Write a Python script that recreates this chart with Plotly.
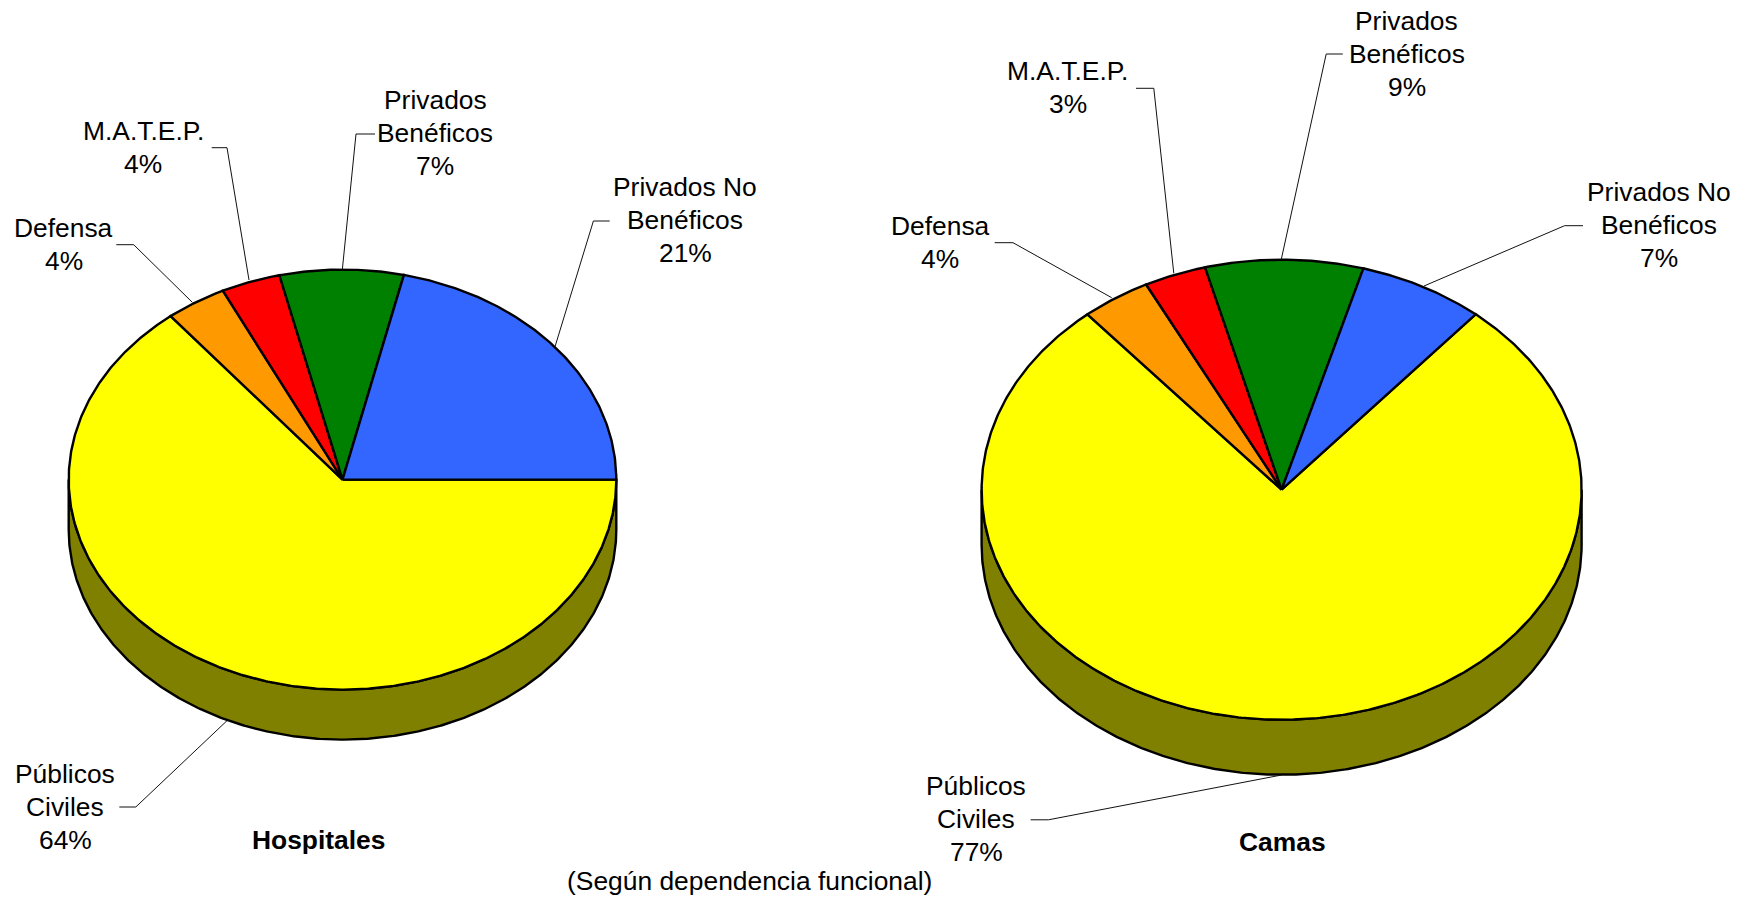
import numpy as np
import plotly.graph_objects as go

# ---- data (clockwise from the first slice) ----
categories = ["Públicos Civiles", "Defensa", "M.A.T.E.P.", "Privados Benéficos", "Privados No Benéficos"]
hospitales_share = [64.2, 3.6, 3.5, 7.3, 21.4]
camas_share = [77.6, 3.75, 3.35, 8.5, 6.8]
hospitales_pct = ["64%", "4%", "4%", "7%", "21%"]
camas_pct = ["77%", "4%", "3%", "9%", "7%"]
label_lines = [["Públicos", "Civiles"], ["Defensa"], ["M.A.T.E.P."], ["Privados", "Benéficos"], ["Privados No", "Benéficos"]]
chart_titles = ["Hospitales", "Camas"]
footer = "(Según dependencia funcional)"

# ---- styles and layout ----
COLORS = ["#FFFF00", "#FF9900", "#FF0000", "#008000", "#3366FF"]
WALLS = ["#808000", "#804C00", "#800000", "#004000", "#193380"]
FONT = "Liberation Sans, Arial, sans-serif"
FS = 26.4
LINE_GAP = 33

PIES = [
    dict(cx=342.5, cy=479.6, rx=273.8, ry=210, depth=50, start=0.0,
         share=hospitales_share, pct=hospitales_pct,
         label_pos=[(65, 806.5), (63.5, 244), (143, 147), (435, 133), (685, 220)],
         title_pos=(318, 840),
         leaders=[[(119.3, 807), (135.8, 807), (227, 720.7)],
                  [(116.3, 244.7), (133.7, 244.7), (192.3, 302.3)],
                  [(211.7, 147.7), (227, 147.7), (249, 280)],
                  [(375, 134), (356, 134), (342.4, 269)],
                  [(609.7, 221), (593.4, 221), (555, 346.7)]]),
    dict(cx=1281.6, cy=489.7, rx=300, ry=230, depth=55, start=-49.7,
         share=camas_share, pct=camas_pct,
         label_pos=[(976, 819), (940, 242.6), (1067.5, 87.5), (1406.5, 53.5), (1659, 225)],
         title_pos=(1282, 842),
         leaders=[[(1030.6, 819.8), (1048.5, 819.8), (1281.6, 775)],
                  [(994.7, 242.7), (1013, 242.7), (1111.7, 297.7)],
                  [(1136, 88.3), (1153.8, 88.3), (1173.8, 273.3)],
                  [(1342.8, 54), (1326.2, 54), (1281.3, 259.3)],
                  [(1583, 225.7), (1564.6, 225.7), (1424, 286)]]),
]

fig = go.Figure()
annotations = []


def arc(p, a0, a1, dy=0.0):
    t = np.radians(np.linspace(a0, a1, max(int(abs(a1 - a0) * 2), 2)))
    return p["cx"] + p["rx"] * np.cos(t), p["cy"] + dy + p["ry"] * np.sin(t)


def poly(x, y, fill, name):
    fig.add_trace(go.Scatter(x=x, y=y, mode="lines", fill="toself", fillcolor=fill, name=name,
                             line=dict(color="black", width=2.4), hoverinfo="skip", showlegend=False))


def text(x, y, s):
    annotations.append(dict(x=x, y=y, text=s, showarrow=False, xanchor="center", yanchor="middle",
                            font=dict(family=FONT, size=FS, color="black")))


for title, p in zip(chart_titles, PIES):
    edges = p["start"] + np.cumsum([0] + p["share"]) * 360.0 / sum(p["share"])
    # side wall: only the part of each slice on the front half
    for i, cat in enumerate(categories):
        for k in (-360, 0, 360):
            a0, a1 = max(edges[i] + k, 0), min(edges[i + 1] + k, 180)
            if a1 > a0:
                xt, yt = arc(p, a0, a1)
                xb, yb = arc(p, a1, a0, p["depth"])
                poly(np.r_[xt, xb, xt[0]], np.r_[yt, yb, yt[0]], WALLS[i], cat)
    # top face
    for i, cat in enumerate(categories):
        x, y = arc(p, edges[i], edges[i + 1])
        poly(np.r_[p["cx"], x, p["cx"]], np.r_[p["cy"], y, p["cy"]], COLORS[i], cat)
    # leaders and labels
    for i, cat in enumerate(categories):
        xs, ys = zip(*p["leaders"][i])
        fig.add_trace(go.Scatter(x=xs, y=ys, mode="lines", line=dict(color="#111111", width=1),
                                 hoverinfo="skip", showlegend=False))
        lx, ly = p["label_pos"][i]
        lines = label_lines[i] + [p["pct"][i]]
        for j, s in enumerate(lines):
            text(lx, ly + (j - (len(lines) - 1) / 2) * LINE_GAP, s)
    text(*p["title_pos"], f"<b>{title}</b>")

text(749.5, 881, footer)

fig.update_layout(
    width=1749, height=901, margin=dict(l=0, r=0, t=0, b=0),
    paper_bgcolor="white", plot_bgcolor="white", showlegend=False, annotations=annotations,
    xaxis=dict(range=[0, 1749], visible=False, fixedrange=True),
    yaxis=dict(range=[901, 0], visible=False, fixedrange=True),
)
fig.write_html("out.html", config=dict(displayModeBar=False),
               post_script="document.body.style.margin='0';document.body.style.overflow='hidden';")
